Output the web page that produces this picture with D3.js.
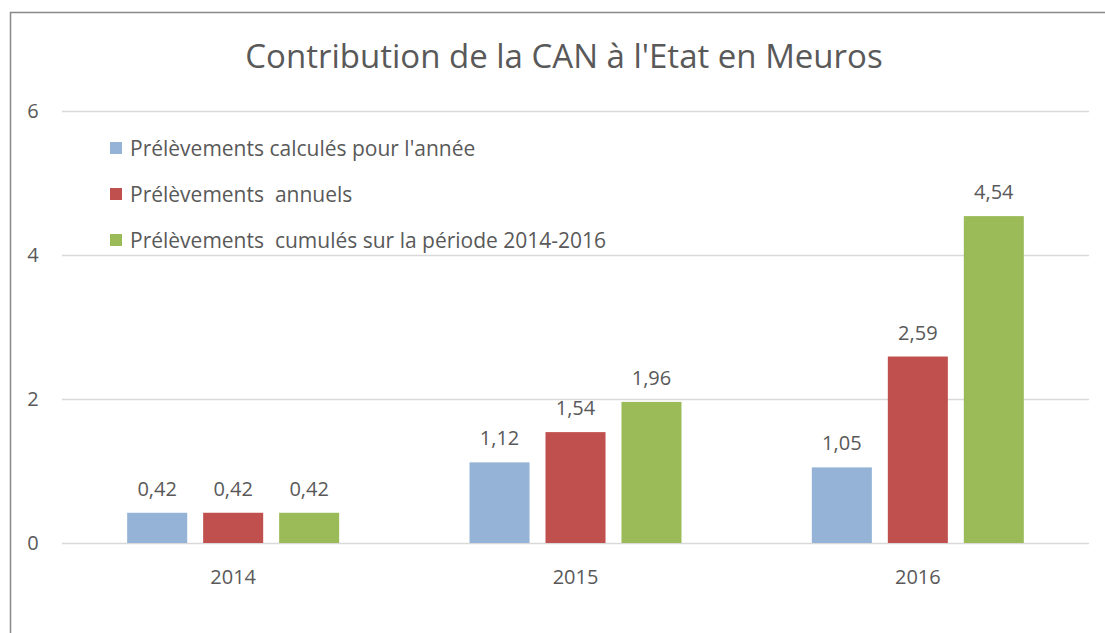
<!DOCTYPE html>
<html>
<head>
<meta charset="utf-8">
<script src="https://d3js.org/d3.v7.min.js"></script>
<style>
  body { margin: 0; background: #fff; }
  text { font-family: "Open Sans", Lato, sans-serif; fill: #595959; }
</style>
</head>
<body>
<svg></svg>
<script>
const years = ["2014", "2015", "2016"];
const seriesNames = [
  "Prélèvements calculés pour l'année",
  "Prélèvements  annuels",
  "Prélèvements  cumulés sur la période 2014-2016"
];
const calcules = [0.42, 1.12, 1.05];
const annuels = [0.42, 1.54, 2.59];
const cumules = [0.42, 1.96, 4.54];
const yTicks = [0, 2, 4, 6];
const colors = ["#95b3d7", "#c0504d", "#9bbb59"];

const width = 1105, height = 633;
const svg = d3.select("svg").attr("width", width).attr("height", height);

// chart border (only top and left visible in the crop)
svg.append("path")
  .attr("d", "M10.5,633 V12.5 H1105")
  .attr("fill", "none")
  .attr("stroke", "#898989")
  .attr("stroke-width", 1.5);

const plotLeft = 62, plotRight = 1089;
const y = d3.scaleLinear().domain([0, 6]).range([543, 111]);
const x0 = d3.scaleBand().domain(years).range([plotLeft, plotRight]);
const x1 = d3.scaleBand().domain(d3.range(3)).range([-106, 106]).paddingInner(0.21);

const fmt = v => d3.format(".2f")(v).replace(".", ",");

// gridlines
svg.append("g").selectAll("line")
  .data(yTicks)
  .join("line")
  .attr("x1", plotLeft).attr("x2", plotRight)
  .attr("y1", d => y(d) + 0.5).attr("y2", d => y(d) + 0.5)
  .attr("stroke", "#d9d9d9")
  .attr("stroke-width", 1.5);

// y tick labels
svg.append("g").selectAll("text")
  .data(yTicks)
  .join("text")
  .attr("x", 33).attr("y", d => y(d))
  .attr("dy", "0.36em")
  .attr("text-anchor", "middle")
  .style("font-size", "20px")
  .text(d => d);

// title
svg.append("text")
  .attr("x", 564).attr("y", 68)
  .attr("text-anchor", "middle")
  .style("font-size", "33px")
  .text("Contribution de la CAN à l'Etat en Meuros");

const series = [calcules, annuels, cumules];
const rows = [];
years.forEach((yr, i) => {
  series.forEach((s, j) => rows.push({ year: yr, s: j, v: s[i] }));
});

const g = svg.append("g");
g.selectAll("rect")
  .data(rows)
  .join("rect")
  .attr("x", d => x0(d.year) + x0.bandwidth() / 2 + x1(d.s))
  .attr("width", x1.bandwidth())
  .attr("y", d => y(d.v))
  .attr("height", d => y(0) - y(d.v))
  .attr("fill", d => colors[d.s]);

g.selectAll("text.val")
  .data(rows)
  .join("text")
  .attr("class", "val")
  .attr("x", d => x0(d.year) + x0.bandwidth() / 2 + x1(d.s) + x1.bandwidth() / 2)
  .attr("y", d => y(d.v) - 17)
  .attr("text-anchor", "middle")
  .style("font-size", "20px")
  .text(d => fmt(d.v));

// x labels
svg.append("g").selectAll("text")
  .data(years)
  .join("text")
  .attr("x", d => x0(d) + x0.bandwidth() / 2)
  .attr("y", 584)
  .attr("text-anchor", "middle")
  .style("font-size", "20px")
  .text(d => d);

// legend
const legend = svg.append("g").selectAll("g")
  .data(seriesNames)
  .join("g")
  .attr("transform", (d, i) => `translate(110,${148 + i * 46})`);
legend.append("rect")
  .attr("x", 0).attr("y", -6)
  .attr("width", 12).attr("height", 12)
  .attr("fill", (d, i) => colors[i]);
legend.append("text")
  .attr("x", 20).attr("y", 0)
  .attr("dy", "0.36em")
  .style("font-size", "21px")
  .style("white-space", "pre")
  .attr("xml:space", "preserve")
  .text(d => d);
</script>
</body>
</html>
